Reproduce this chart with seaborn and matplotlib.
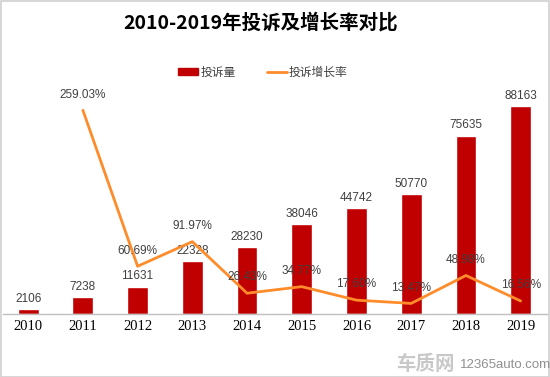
import numpy as np
import pandas as pd
import matplotlib
matplotlib.use("Agg")
import matplotlib.pyplot as plt
import seaborn as sns
from matplotlib.patches import Patch, Rectangle
from matplotlib.lines import Line2D

years = ["2010", "2011", "2012", "2013", "2014", "2015", "2016", "2017", "2018", "2019"]
complaints = [2106, 7238, 11631, 22328, 28230, 38046, 44742, 50770, 75635, 88163]
growth = [np.nan, 259.03, 60.69, 91.97, 26.43, 34.77, 17.60, 13.47, 48.98, 16.56]

sns.set_theme(style="white")
plt.rcParams['font.family'] = ['Noto Sans CJK SC', 'DejaVu Sans']

BAR = "#C00000"
LINE = "#FF8C2A"
LBL = "#404040"

df = pd.DataFrame({"year": years, "pos": np.arange(len(years)),
                   "complaints": complaints, "growth": growth})

fig = plt.figure(figsize=(5.5, 3.77), dpi=100)
ax = fig.add_axes([3/550, 1-314/377, 545/550, (314-78)/377])
sns.barplot(data=df, x="year", y="complaints", color=BAR, width=0.38,
            saturation=1, ax=ax)
ax.set_ylim(0, 100000)
ax.set_xlim(-0.46, 9.5)
ax.set_xlabel("")
ax.set_ylabel("")
ax.set_yticks([])
for s in ["top", "left", "right"]:
    ax.spines[s].set_visible(False)
ax.spines["bottom"].set_color("#BFBFBF")
ax.spines["bottom"].set_linewidth(1)
ax.tick_params(axis="x", length=0, pad=4)
for t in ax.get_xticklabels():
    t.set_fontfamily("Liberation Serif")
    t.set_fontsize(10.5)
    t.set_color("black")

for p, v in zip(df["pos"], df["complaints"]):
    ax.annotate(f"{v}", (p, v), xytext=(0, 3), textcoords="offset points",
                ha="center", va="bottom", fontsize=8.5, color=LBL,
                family=["Liberation Sans", "DejaVu Sans"])

ax2 = ax.twinx()
sns.lineplot(data=df, x="pos", y="growth", color=LINE, linewidth=2, ax=ax2)
ax2.set_ylim(0, 300)
ax2.set_xlim(-0.46, 9.5)
ax2.set_yticks([])
ax2.set_ylabel("")
ax2.set_xlabel("")
for s in ["top", "left", "right", "bottom"]:
    ax2.spines[s].set_visible(False)
for p, g in zip(df["pos"], df["growth"]):
    if np.isnan(g):
        continue
    ax2.annotate(f"{g:.2f}%", (p, g), xytext=(0, 7), textcoords="offset points",
                 ha="center", va="bottom", fontsize=8.5, color=LBL,
                 family=["Liberation Sans", "DejaVu Sans"])

fig.text(261/550, 1-23/377, "2010-2019年投诉及增长率对比", ha="center", va="center",
         fontsize=14, fontweight="bold", color="black")

handles = [Patch(facecolor=BAR, edgecolor=BAR),
           Line2D([0], [0], color=LINE, linewidth=2)]
fig.legend(handles, ["投诉量", "投诉增长率"], loc="center",
           bbox_to_anchor=(263/550, 1-72/377), ncol=2, frameon=False,
           fontsize=8.5, handlelength=1.7, handleheight=0.5,
           columnspacing=2.6, handletextpad=0.2, labelcolor=LBL)

fig.text(455/550, 1-364/377, "车质网", ha="right", va="center", fontsize=14,
         color="#C8C8C8", fontweight="bold")
fig.text(460/550, 1-365/377, "12365auto.com", ha="left", va="center", fontsize=9.5,
         color="#8F8F8F", family=["Liberation Sans", "DejaVu Sans"])

fig.patches.append(Rectangle((0.001, 0.001), 0.997, 0.997, transform=fig.transFigure,
                             fill=False, edgecolor="#D0D0D0", linewidth=1.2))

fig.savefig("out.png", dpi=100)
